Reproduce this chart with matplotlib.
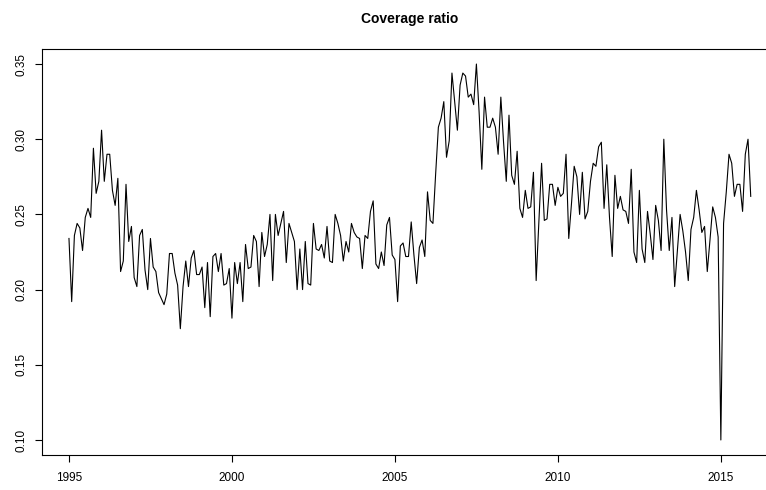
import numpy as np
import matplotlib
matplotlib.use("Agg")
import matplotlib.pyplot as plt

start_year = 1995
values = [
    0.234, 0.192, 0.236, 0.244, 0.241, 0.226, 0.248, 0.254, 0.248, 0.294, 0.264, 0.272,
    0.306, 0.272, 0.290, 0.290, 0.266, 0.256, 0.274, 0.212, 0.219, 0.270, 0.232, 0.242,
    0.208, 0.202, 0.236, 0.240, 0.213, 0.200, 0.234, 0.215, 0.212, 0.198, 0.194, 0.190,
    0.197, 0.224, 0.224, 0.211, 0.203, 0.174, 0.202, 0.219, 0.202, 0.221, 0.226, 0.210,
    0.210, 0.215, 0.188, 0.218, 0.182, 0.222, 0.224, 0.212, 0.224, 0.203, 0.204, 0.214,
    0.181, 0.218, 0.204, 0.218, 0.192, 0.230, 0.214, 0.215, 0.236, 0.232, 0.202, 0.238,
    0.222, 0.230, 0.250, 0.206, 0.250, 0.236, 0.244, 0.252, 0.218, 0.244, 0.238, 0.232,
    0.200, 0.227, 0.200, 0.232, 0.204, 0.203, 0.244, 0.227, 0.226, 0.230, 0.221, 0.242,
    0.219, 0.218, 0.250, 0.244, 0.236, 0.219, 0.232, 0.225, 0.244, 0.238, 0.235, 0.234,
    0.214, 0.236, 0.234, 0.252, 0.259, 0.217, 0.214, 0.225, 0.216, 0.243, 0.248, 0.223,
    0.220, 0.192, 0.229, 0.231, 0.222, 0.222, 0.245, 0.223, 0.204, 0.228, 0.233, 0.222,
    0.265, 0.246, 0.244, 0.277, 0.308, 0.314, 0.325, 0.288, 0.299, 0.344, 0.325, 0.306,
    0.336, 0.344, 0.342, 0.328, 0.330, 0.323, 0.350, 0.318, 0.280, 0.328, 0.308, 0.308,
    0.314, 0.308, 0.290, 0.328, 0.298, 0.272, 0.316, 0.276, 0.270, 0.292, 0.254, 0.248,
    0.266, 0.254, 0.255, 0.278, 0.206, 0.245, 0.284, 0.246, 0.247, 0.270, 0.270, 0.256,
    0.268, 0.262, 0.264, 0.290, 0.234, 0.257, 0.282, 0.275, 0.250, 0.278, 0.247, 0.252,
    0.272, 0.284, 0.282, 0.295, 0.298, 0.254, 0.283, 0.248, 0.222, 0.276, 0.254, 0.262,
    0.253, 0.252, 0.244, 0.280, 0.225, 0.218, 0.266, 0.227, 0.218, 0.252, 0.237, 0.220,
    0.256, 0.246, 0.226, 0.300, 0.253, 0.226, 0.248, 0.202, 0.226, 0.250, 0.239, 0.225,
    0.206, 0.240, 0.248, 0.266, 0.253, 0.238, 0.242, 0.212, 0.233, 0.255, 0.248, 0.235,
    0.100, 0.244, 0.265, 0.290, 0.284, 0.262, 0.270, 0.270, 0.252, 0.290, 0.300, 0.262,
]
x_ticks = [1995, 2000, 2005, 2010, 2015]
y_ticks = [0.10, 0.15, 0.20, 0.25, 0.30, 0.35]
title = "Coverage ratio"

plt.rcParams['font.family'] = ['Liberation Sans', 'DejaVu Sans']

t = start_year + np.arange(len(values)) / 12.0
v = np.array(values)

W, H = 766, 490
fig = plt.figure(figsize=(W / 100, H / 100), dpi=100)
left_px, right_px, top_px, bottom_px = 41.7, 778.0, 49.0, 455.0
ax = fig.add_axes([left_px / W, (H - bottom_px) / H,
                   (right_px - left_px) / W, (bottom_px - top_px) / H])

ax.plot(t, v, color='black', linewidth=0.8)

xr = t.max() - t.min()
yr = v.max() - v.min()
ax.set_xlim(t.min() - 0.04 * xr, t.max() + 0.04 * xr)
ax.set_ylim(v.min() - 0.04 * yr, v.max() + 0.04 * yr)

ax.set_xticks(x_ticks)
ax.set_xticklabels([str(x) for x in x_ticks])
ax.set_yticks(y_ticks)
ax.set_yticklabels([f"{y:.2f}" for y in y_ticks], rotation=90, va='center')

ax.tick_params(axis='both', direction='out', length=5, width=0.8,
               labelsize=8.5, color='black')
ax.tick_params(axis='x', pad=7)
ax.tick_params(axis='y', pad=5)
for s in ax.spines.values():
    s.set_linewidth(0.8)
    s.set_color('black')

ax.set_title(title, fontsize=10, fontweight='bold', pad=19)

fig.savefig("out.png", dpi=100)
